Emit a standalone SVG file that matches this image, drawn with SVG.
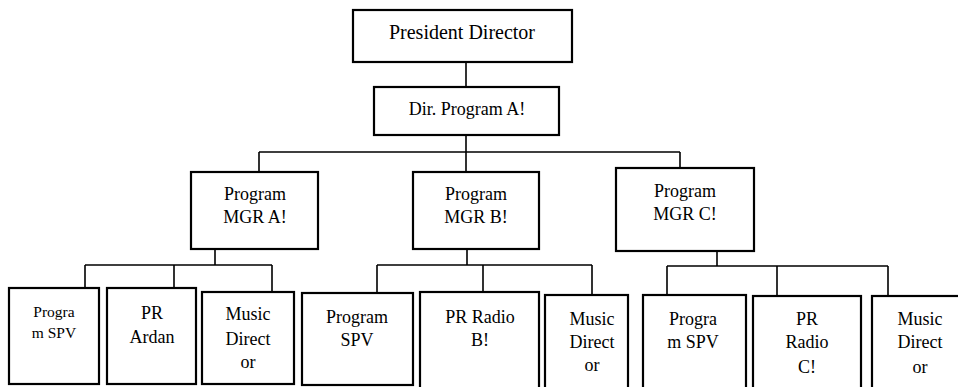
<svg xmlns="http://www.w3.org/2000/svg" width="958" height="387" viewBox="0 0 958 387">
<style>
.box{fill:#fff;stroke:#000;stroke-width:2.2}
.ln{fill:none;stroke:#000;stroke-width:1.6}
</style>
<rect width="958" height="387" fill="#fff"/>
<g id="connectors" class="ln">
<path d="M466 62V87"/>
<path d="M466 135V152M259 152H680M259 152V172M466 152V172M680 152V168"/>
<path d="M215 249V265M85 265H272M85 265V288M174 265V288M272 265V292"/>
<path d="M467 249V265M377 265H592M377 265V300M483 265V293M592 265V295"/>
<path d="M717 251V266M667 266H888M667 266V295M777 266V296M888 266V296"/>
</g>
<g font-family="Liberation Serif, DejaVu Serif, serif" font-size="18" text-anchor="middle" fill="#000">
<g id="president"><rect class="box" x="353" y="10" width="219" height="52"/><text x="462" y="39" font-size="20">President Director</text></g>
<g id="dir"><rect class="box" x="374" y="87" width="185" height="48"/><text x="467" y="115">Dir. Program A!</text></g>
<g id="mgrA"><rect class="box" x="191" y="172" width="127" height="77"/><text x="255" y="200">Program</text><text x="255" y="223">MGR A!</text></g>
<g id="mgrB"><rect class="box" x="413" y="172" width="126" height="77"/><text x="476" y="200">Program</text><text x="476" y="223">MGR B!</text></g>
<g id="mgrC"><rect class="box" x="616" y="168" width="138" height="83"/><text x="685" y="197">Program</text><text x="685" y="220">MGR C!</text></g>
<g id="spvA"><rect class="box" x="9" y="288" width="90" height="96"/><text x="54" y="317" font-size="15.5">Progra</text><text x="54" y="338" font-size="15.5">m SPV</text></g>
<g id="prA"><rect class="box" x="107" y="288" width="89" height="96"/><text x="152" y="319">PR</text><text x="152" y="343">Ardan</text></g>
<g id="musicA"><rect class="box" x="202" y="292" width="92" height="92"/><text x="248" y="320">Music</text><text x="248" y="345">Direct</text><text x="248" y="368">or</text></g>
<g id="spvB"><rect class="box" x="302" y="293" width="111" height="92"/><text x="357" y="323">Program</text><text x="357" y="346">SPV</text></g>
<g id="prB"><rect class="box" x="420" y="292" width="119" height="100"/><text x="480" y="323">PR Radio</text><text x="480" y="346">B!</text></g>
<g id="musicB"><rect class="box" x="545" y="295" width="83" height="100"/><text x="592" y="325">Music</text><text x="592" y="348">Direct</text><text x="592" y="371">or</text></g>
<g id="spvC"><rect class="box" x="643" y="295" width="103" height="100"/><text x="693" y="325">Progra</text><text x="693" y="348">m SPV</text></g>
<g id="prC"><rect class="box" x="753" y="296" width="108" height="100"/><text x="807" y="325">PR</text><text x="807" y="348">Radio</text><text x="807" y="373">C!</text></g>
<g id="musicC"><rect class="box" x="872" y="296" width="96" height="100"/><text x="920" y="325">Music</text><text x="920" y="348">Direct</text><text x="920" y="373">or</text></g>
</g>
</svg>
